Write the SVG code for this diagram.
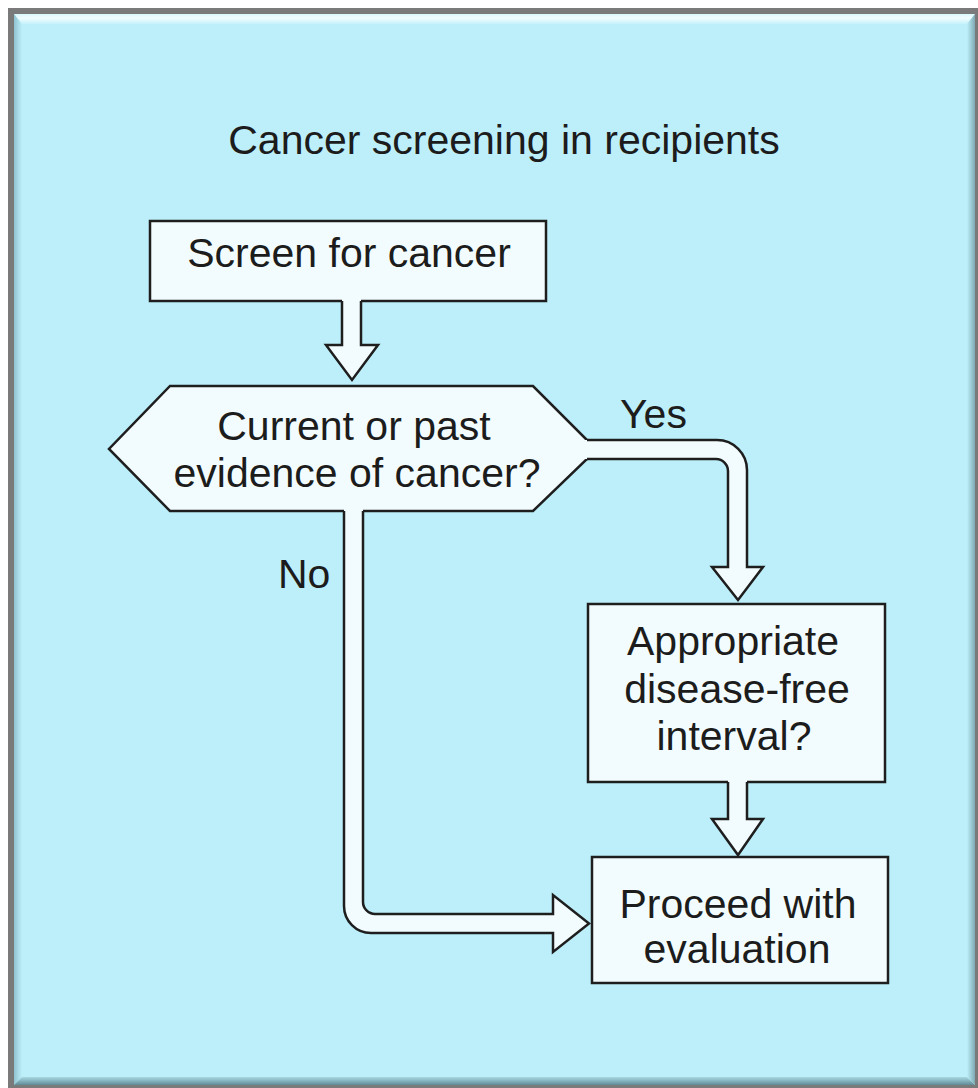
<svg xmlns="http://www.w3.org/2000/svg" width="978" height="1088" viewBox="0 0 978 1088">
<defs>
<style>
.node{fill:#F2FCFE;stroke:#1e1e1e;stroke-width:2.5;stroke-linejoin:miter}
.cfill{fill:#F2FCFE;stroke:none}
.cline{fill:none;stroke:#1e1e1e;stroke-width:2.5;stroke-linejoin:miter}
.t{font-family:"Liberation Sans",Arial,Helvetica,sans-serif;font-size:41px;fill:#1c1c1c}
.c{text-anchor:middle}
</style>
<linearGradient id="gTop" x1="0" y1="0" x2="0" y2="1">
<stop offset="0" stop-color="#d8f7fd"/>
<stop offset="0.4" stop-color="#f2fdff"/>
<stop offset="1" stop-color="#c4f2fb"/>
</linearGradient>
<linearGradient id="gLeft" x1="0" y1="0" x2="1" y2="0">
<stop offset="0" stop-color="#8fc3cf"/>
<stop offset="1" stop-color="#bdeffa"/>
</linearGradient>
<linearGradient id="gBot" x1="0" y1="0" x2="0" y2="1">
<stop offset="0" stop-color="#a9d9e3"/>
<stop offset="1" stop-color="#5f8b96"/>
</linearGradient>
<linearGradient id="gRight" x1="0" y1="0" x2="1" y2="0">
<stop offset="0" stop-color="#bdeffa"/>
<stop offset="1" stop-color="#7fa9b3"/>
</linearGradient>
</defs>

<g id="frame">
<rect x="0" y="0" width="978" height="1088" fill="#ffffff"/>
<rect x="8" y="8" width="970" height="1080" fill="#7a7a7a"/>
<rect x="14" y="14" width="961" height="1071" fill="#bdeffa"/>
<polygon points="14,14 975,14 967,24 22,24" fill="url(#gTop)"/>
<polygon points="14,14 22,24 22,1077 14,1085" fill="url(#gLeft)"/>
<polygon points="14,1085 22,1077 967,1077 975,1085" fill="url(#gBot)"/>
<polygon points="975,14 975,1085 967,1077 967,24" fill="url(#gRight)"/>
<rect x="22" y="24" width="945" height="1053" fill="#bdeffa"/>
</g>

<g id="title">
<text class="t c" x="504" y="154" font-size="42">Cancer screening in recipients</text>
</g>

<g id="node-screen">
<rect class="node" x="150" y="221" width="396" height="80"/>
<text class="t c" x="349" y="267">Screen for cancer</text>
</g>

<g id="node-evidence">
<polygon class="node" points="170,386 533,386 587,440 587,459 533,511 170,511 109,449"/>
<text class="t c" x="354" y="440">Current or past</text>
<text class="t c" x="357" y="487">evidence of cancer?</text>
</g>

<g id="node-interval">
<rect class="node" x="588" y="604" width="297" height="178"/>
<text class="t c" x="733" y="655">Appropriate</text>
<text class="t c" x="737" y="703">disease-free</text>
<text class="t c" x="734" y="750">interval?</text>
</g>

<g id="node-proceed">
<rect class="node" x="592" y="857" width="296" height="126"/>
<text class="t c" x="738" y="918">Proceed with</text>
<text class="t c" x="737" y="963">evaluation</text>
</g>

<g id="connectors">
<!-- screen -> evidence -->
<path class="cfill" d="M342,298 V345 H326 L352,380 L378,345 H361 V298 Z"/>
<path class="cline" d="M342,301 V345 H326 L352,380 L378,345 H361 V301"/>
<!-- evidence -> interval (Yes) -->
<path class="cfill" d="M582,440 H717 A30,30 0 0 1 747,470 V567 H763 L738,600 L712,567 H728 V471 A12,12 0 0 0 716,459 H582 Z"/>
<path class="cline" d="M587,440 H717 A30,30 0 0 1 747,470 V567 H763 L738,600 L712,567 H728 V471 A12,12 0 0 0 716,459 H587"/>
<!-- interval -> proceed -->
<path class="cfill" d="M728,779 V819 H712 L738,855 L763,819 H747 V779 Z"/>
<path class="cline" d="M728,782 V819 H712 L738,855 L763,819 H747 V782"/>
<!-- evidence -> proceed (No) -->
<path class="cfill" d="M344,508 V906 A27,27 0 0 0 371,933 H553 V952 L589,923.5 L553,895 V914 H375 A12,12 0 0 1 363,902 V508 Z"/>
<path class="cline" d="M344,511 V906 A27,27 0 0 0 371,933 H553 V952 L589,923.5 L553,895 V914 H375 A12,12 0 0 1 363,902 V511"/>
<text class="t" x="620" y="428">Yes</text>
<text class="t" x="278" y="588">No</text>
</g>
</svg>
